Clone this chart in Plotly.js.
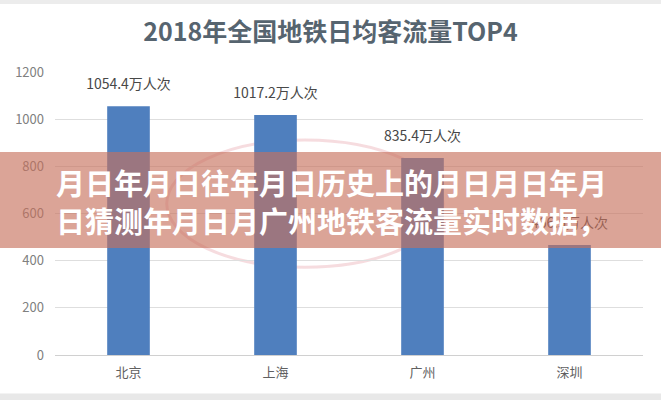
<!DOCTYPE html>
<html><head><meta charset="utf-8">
<script src="https://cdn.plot.ly/plotly-3.0.1.min.js"></script>
<style>html,body{margin:0;padding:0;background:#fff;}#chart{width:661px;height:400px;}</style>
</head><body><div id="chart"></div>
<script>
const cities = ["北京", "上海", "广州", "深圳"];
const ridership = [1054.4, 1017.2, 835.4, 466.5];
const unitSuffix = "万人次";
const chartTitle = "2018年全国地铁日均客流量TOP4";
const bannerLines = ["月日年月日往年月日历史上的月日月日年月", "日猜测年月日月广州地铁客流量实时数据，"];
const yTicks = [0, 200, 400, 600, 800, 1000, 1200];

const CJK = '"Noto Sans CJK SC", "Noto Sans", sans-serif';
const bars = {
  type: "bar", x: cities, y: ridership,
  marker: {color: "#4f7fbe"}, hoverinfo: "skip"
};
const labels = {
  type: "scatter", mode: "markers+text", x: cities, y: ridership,
  text: ridership.map(v => v.toFixed(1) + unitSuffix),
  textposition: "top center", cliponaxis: false,
  marker: {size: 20, opacity: 0, color: "#fff"},
  textfont: {family: CJK, size: 14, color: "#484848"}, hoverinfo: "skip"
};
const bannerAnn = {
  x: 0.47, xref: "paper", y: 0.544, yref: "paper",
  text: bannerLines.join("<br>"), showarrow: false, xanchor: "center", yanchor: "middle", align: "center",
  font: {family: CJK, size: 29, color: "#ffffff", weight: 700}
};
const layout = {
  width: 661, height: 400,
  margin: {l: 55, r: 18, t: 72, b: 45},
  paper_bgcolor: "#fff", plot_bgcolor: "#fff",
  showlegend: false,
  title: {text: chartTitle, x: 0.5, xref: "container", xanchor: "center", y: 0.92, yref: "container", yanchor: "middle",
    font: {family: CJK, size: 25, color: "#56646f", weight: 700}},
  bargap: 0.71,
  xaxis: {type: "category", showgrid: false, showline: false, ticks: "", ticklabelstandoff: 8,
    tickfont: {family: CJK, size: 13, color: "#606060"}},
  yaxis: {range: [0, 1200], tickvals: yTicks, showgrid: true, gridcolor: "#dedede", gridwidth: 1,
    zeroline: true, zerolinecolor: "#d0d0d0", showline: false, ticks: "", ticklabelstandoff: 10,
    tickfont: {family: CJK, size: 13, color: "#808080"}},
  shapes: [
    {type: "circle", xref: "paper", yref: "paper", x0: 0.19, x1: 0.66, y0: 0.31, y1: 0.76,
      line: {color: "rgba(225,140,150,0.3)", width: 3}, layer: "below"},
    {type: "rect", xref: "paper", yref: "paper", x0: -0.1, x1: 1.04, y0: 0.378, y1: 0.717,
      fillcolor: "rgba(199,112,92,0.64)", line: {width: 0}, layer: "above"},
    {type: "rect", xref: "paper", yref: "paper", x0: -0.1, x1: 1.04, y0: -0.16, y1: -0.136,
      fillcolor: "#e8e8e8", line: {width: 0}},
    {type: "rect", xref: "paper", yref: "paper", x0: -0.1, x1: 1.04, y0: 1.24, y1: 1.26,
      fillcolor: "#ececec", line: {width: 0}}
  ],
  annotations: [bannerAnn]
};
Plotly.newPlot("chart", [bars, labels], layout, {displayModeBar: false, staticPlot: true});
</script></body></html>
